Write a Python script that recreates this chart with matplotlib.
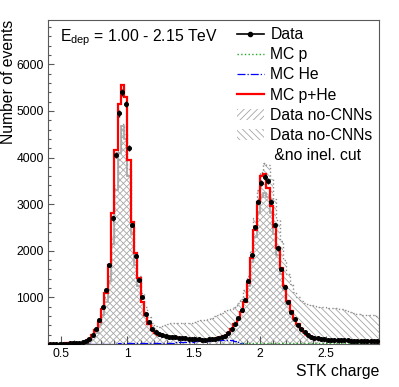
import numpy as np
import matplotlib
matplotlib.use("Agg")
import matplotlib.pyplot as plt
from matplotlib.lines import Line2D
from matplotlib.patches import Patch

plt.rcParams["font.family"] = "Liberation Sans"
plt.rcParams["mathtext.fontset"] = "custom"
plt.rcParams["mathtext.rm"] = "Liberation Sans"
plt.rcParams["hatch.linewidth"] = 0.6

# 100 bins, 0.4 - 2.9 in STK charge
edges = np.linspace(0.4, 2.9, 101)

data = [5, 6, 8, 9, 10, 10, 12, 14, 18, 22,
        35, 60, 110, 200, 320, 520, 800, 1150, 1700, 2700,
        4050, 4950, 5400, 5150, 4200, 2550, 1880, 1380, 1000, 650,
        470, 330, 260, 210, 185, 170, 160, 150, 140, 132,
        125, 118, 110, 105, 100, 97, 95, 95, 98, 100,
        110, 125, 150, 180, 240, 330, 430, 560, 720, 950,
        1350, 1900, 2500, 3050, 3450, 3580, 3500, 3050, 2550, 2050,
        1600, 1220, 900, 690, 530, 410, 320, 250, 200, 160,
        135, 118, 105, 98, 92, 88, 85, 82, 80, 78,
        76, 74, 72, 70, 68, 66, 65, 64, 62, 60]

mc_sum = [8, 8, 9, 10, 10, 11, 12, 14, 16, 20,
          30, 50, 100, 190, 290, 480, 760, 1100, 1700, 2800,
          4160, 5150, 5560, 5290, 3950, 2624, 1946, 1410, 900, 620,
          430, 310, 240, 200, 185, 170, 160, 150, 140, 130,
          120, 110, 105, 100, 95, 92, 90, 90, 92, 95,
          105, 120, 140, 170, 240, 330, 420, 530, 680, 900,
          1300, 1850, 2450, 3050, 3600, 3640, 3350, 2950, 2500, 2050,
          1620, 1250, 930, 700, 540, 420, 330, 250, 195, 155,
          130, 110, 95, 85, 80, 75, 72, 70, 68, 65,
          63, 62, 60, 58, 57, 56, 55, 54, 53, 52]

nocnn = [4, 5, 6, 7, 8, 8, 10, 11, 14, 17,
         25, 45, 80, 150, 240, 400, 620, 900, 1350, 2150,
         3300, 4100, 4680, 4400, 3600, 2350, 1700, 1250, 900, 600,
         430, 310, 240, 200, 175, 160, 150, 140, 130, 122,
         115, 108, 100, 95, 90, 87, 85, 85, 88, 92,
         100, 115, 140, 170, 225, 300, 400, 520, 680, 900,
         1250, 1750, 2300, 2800, 3150, 3230, 3150, 2800, 2350, 1900,
         1500, 1150, 850, 650, 500, 390, 300, 235, 185, 150,
         125, 110, 100, 92, 86, 82, 79, 76, 74, 72,
         70, 68, 66, 64, 62, 61, 60, 58, 57, 55]

noinel = [5, 6, 7, 8, 9, 10, 12, 14, 17, 22,
          32, 55, 95, 175, 280, 460, 700, 1000, 1450, 2300,
          3400, 4200, 4720, 4500, 3750, 2550, 1900, 1450, 1100, 800,
          580, 450, 390, 370, 380, 400, 420, 440, 450, 460,
          460, 455, 450, 460, 480, 500, 510, 520, 540, 560,
          590, 620, 660, 700, 730, 760, 800, 870, 960, 1150,
          1450, 2000, 2700, 3300, 3700, 3877, 3850, 3550, 3100, 2650,
          2200, 1800, 1500, 1280, 1120, 1000, 930, 880, 850, 830,
          810, 800, 790, 790, 780, 775, 770, 765, 760, 740,
          700, 680, 660, 650, 640, 630, 625, 620, 615, 610]

# MC He drawn on bins 0-59, MC p on bins 52-99
mc_he = [2, 2, 2, 2, 3, 3, 3, 3, 4, 4,
         5, 5, 6, 6, 7, 8, 8, 9, 10, 10,
         10, 11, 11, 12, 12, 13, 13, 14, 15, 16,
         17, 18, 20, 22, 24, 26, 28, 30, 33, 36,
         40, 44, 48, 52, 56, 60, 64, 68, 72, 76,
         80, 85, 88, 90, 88, 80, 65, 45, 25, 10]
mc_p = [5, 6, 7, 8, 9, 10, 11, 12, 13, 14,
        15, 16, 17, 18, 18, 18, 18, 18, 18, 18,
        18, 18, 17, 17, 17, 16, 16, 16, 15, 15,
        15, 15, 15, 14, 14, 14, 14, 14, 14, 14,
        13, 13, 13, 13, 13, 13, 13, 13]

centers = 0.5 * (edges[:-1] + edges[1:])
data = np.array(data)

fig = plt.figure(figsize=(3.99, 3.87), dpi=100)
ax = fig.add_axes([48/399, 43/387, 331/399, 324/387])

hcol = "0.65"
ax.stairs(noinel, edges, fill=True, facecolor="none", edgecolor=hcol,
          hatch="\\\\\\\\\\", linewidth=0, zorder=1)
ax.stairs(nocnn, edges, fill=True, facecolor="none", edgecolor=hcol,
          hatch="/////", linewidth=0, zorder=1.1)
ax.stairs(noinel, edges, color="0.55", linestyle=":", linewidth=1.0, zorder=1.2)
ax.stairs(nocnn, edges, color="0.65", linewidth=1.2, zorder=1.3)

ax.stairs(mc_he, edges[:61], color="blue", linestyle="-.", linewidth=0.9, zorder=2)
ax.stairs(mc_p, edges[52:], color="#22aa22", linestyle=":", linewidth=1.0, zorder=2.1)
ax.stairs(mc_sum, edges, color="red", linewidth=1.6, zorder=3)

ax.errorbar(centers, data, yerr=np.sqrt(data), xerr=0.0125, fmt="o", color="k",
            ms=2.6, elinewidth=1.0, capsize=0, zorder=4)

ax.set_xlim(0.4, 2.9)
ax.set_ylim(0, 6950)
ax.set_xticks([0.5, 1.0, 1.5, 2.0, 2.5])
ax.set_xticklabels(["0.5", "1", "1.5", "2", "2.5"])
ax.set_xticks(np.arange(0.4, 2.91, 0.1), minor=True)
ax.set_yticks([1000, 2000, 3000, 4000, 5000, 6000])
ax.set_yticks(np.arange(200, 6950, 200), minor=True)

for s in ax.spines.values():
    s.set_color("0.35")
    s.set_linewidth(0.8)
ax.tick_params(which="both", direction="in", color="0.35", width=0.8,
               labelsize=8.7, top=False, right=False)
ax.tick_params(axis="x", which="major", length=6, pad=3)
ax.tick_params(axis="x", which="minor", length=3.2)
ax.tick_params(axis="y", which="major", length=4.3, pad=3)
ax.tick_params(axis="y", which="minor", length=2.3)

ax.set_xlabel("STK charge", fontsize=11.3, loc="right", labelpad=3)
ax.set_ylabel("Number of events", fontsize=11.3, loc="top")
ax.yaxis.set_label_coords(-0.097, 1.0)

ax.text(0.036, 0.978, r"E$_{\mathrm{dep}}$ = 1.00 - 2.15 TeV", transform=ax.transAxes,
        fontsize=11.3, va="top", ha="left")

handles = [
    Line2D([], [], color="k", marker="o", ms=3, lw=1.2),
    Line2D([], [], color="#22aa22", ls=":", lw=1.0),
    Line2D([], [], color="blue", ls="-.", lw=0.9),
    Line2D([], [], color="red", lw=1.6),
    Patch(facecolor="none", edgecolor=hcol, hatch="/////", lw=0),
    Patch(facecolor="none", edgecolor=hcol, hatch="\\\\\\\\\\", lw=0),
    Line2D([], [], color="none"),
]
labels = ["Data", "MC p", "MC He", "MC p+He", "Data no-CNNs", "Data no-CNNs",
          " &no inel. cut"]
ax.legend(handles, labels, loc="upper left", bbox_to_anchor=(0.571, 0.978),
          frameon=False, fontsize=11.3, handlelength=1.7, handleheight=0.7,
          handletextpad=0.43, labelspacing=0.33, borderpad=0, borderaxespad=0)

fig.savefig("out.png", dpi=100)
